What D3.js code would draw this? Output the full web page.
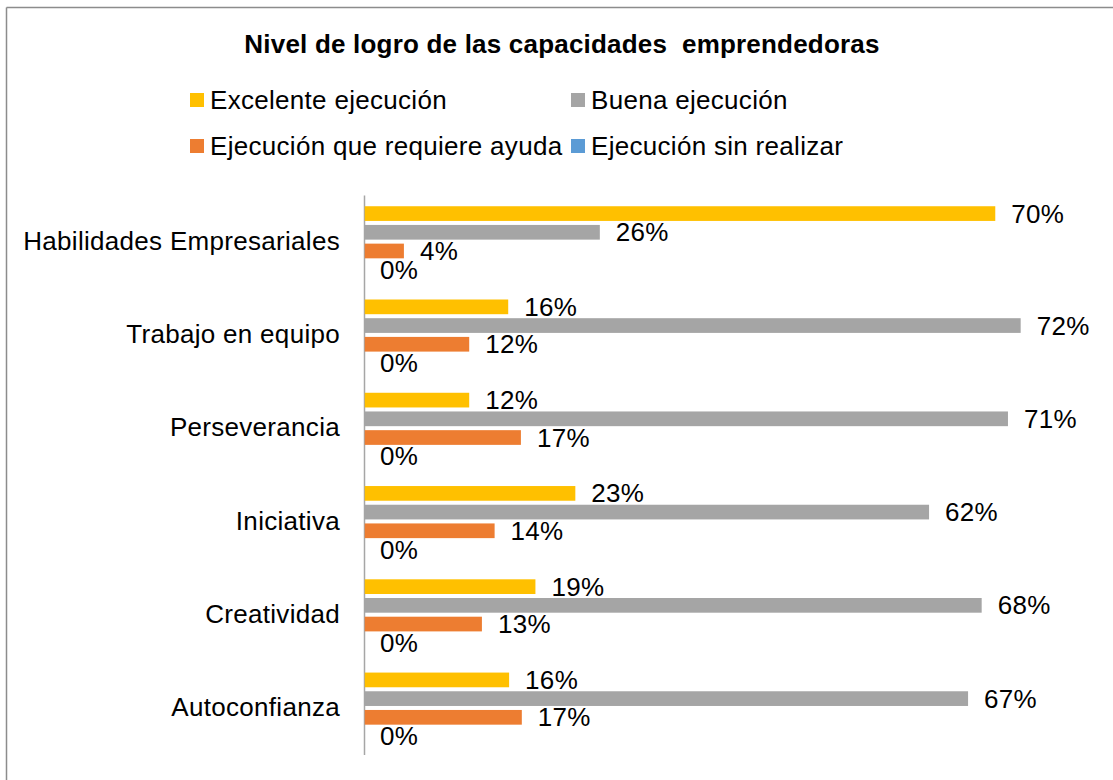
<!DOCTYPE html>
<html>
<head>
<meta charset="utf-8">
<script src="https://cdn.jsdelivr.net/npm/d3@7"></script>
<style>
  body { margin: 0; background: #fff; }
  text { font-family: "Liberation Sans", Arial, sans-serif; }
</style>
</head>
<body>
<div class="chart"></div>
<script>
// datos
var categories = ['Habilidades Empresariales', 'Trabajo en equipo', 'Perseverancia', 'Iniciativa', 'Creatividad', 'Autoconfianza'];
var seriesNames = ['Excelente ejecución', 'Buena ejecución', 'Ejecución que requiere ayuda', 'Ejecución sin realizar'];
var excelente = [0.696, 0.159, 0.116, 0.233, 0.189, 0.160];
var buena = [0.260, 0.724, 0.710, 0.623, 0.681, 0.666];
var ayuda = [0.044, 0.116, 0.173, 0.144, 0.130, 0.174];
var sinRealizar = [0, 0, 0, 0, 0, 0];
var seriesValues = [excelente, buena, ayuda, sinRealizar];
var seriesColors = ['#FFC000', '#A5A5A5', '#ED7D31', '#5B9BD5'];

var width = 1113,
  height = 780;
var fontSize = 26,
  spacing = 0.3;

var svg = d3.select('.chart').append('svg')
  .attr('width', width)
  .attr('height', height);

// borde del grafico
svg.append('line')
  .attr('x1', 6.5).attr('x2', width)
  .attr('y1', 7.5).attr('y2', 7.5)
  .attr('stroke', '#8c8c8c').attr('stroke-width', 1.5);
svg.append('line')
  .attr('x1', 6.5).attr('x2', 6.5)
  .attr('y1', 7.5).attr('y2', height)
  .attr('stroke', '#8c8c8c').attr('stroke-width', 1.5);

// titulo
svg.append('text')
  .attr('x', 562)
  .attr('y', 53)
  .attr('text-anchor', 'middle')
  .attr('font-size', 26)
  .attr('font-weight', 'bold')
  .attr('letter-spacing', 0.2)
  .style('white-space', 'pre')
  .text('Nivel de logro de las capacidades  emprendedoras');

// leyenda (2 columnas x 2 filas)
var legendX = [190, 571],
  legendY = [100, 146];
var legend = svg.append('g')
  .selectAll('g')
  .data(seriesNames)
  .enter()
  .append('g')
  .attr('transform', function (d, i) {
    return 'translate(' + legendX[i % 2] + ',' + legendY[Math.floor(i / 2)] + ')';
  });
legend.append('rect')
  .attr('x', 0)
  .attr('y', -7)
  .attr('width', 14)
  .attr('height', 14)
  .attr('fill', function (d, i) { return seriesColors[i]; });
legend.append('text')
  .attr('x', 20)
  .attr('dy', '0.35em')
  .attr('font-size', fontSize)
  .attr('letter-spacing', spacing)
  .attr('fill', '#000')
  .text(function (d) { return d; });

// escalas
var xScale = d3.scaleLinear()
  .domain([0, 0.8])
  .range([364, 1089.6]);
var y0 = d3.scaleBand()
  .domain(categories)
  .range([195, 754.6])
  .paddingInner(0.198)
  .paddingOuter(0.099);
var y1 = d3.scaleBand()
  .domain(d3.range(seriesNames.length))
  .range([0, y0.bandwidth()]);

// eje vertical
var yAxis = svg.append('g')
  .attr('transform', 'translate(' + xScale(0) + ',0)')
  .call(d3.axisLeft(y0).tickSize(0).tickPadding(24));
yAxis.select('.domain')
  .attr('stroke', '#a6a6a6')
  .attr('stroke-width', 1.5);
yAxis.selectAll('text')
  .attr('font-size', fontSize)
  .attr('letter-spacing', spacing)
  .attr('font-family', '"Liberation Sans", Arial, sans-serif')
  .attr('fill', '#000');

// barras
var rows = [];
categories.forEach(function (c, ci) {
  seriesValues.forEach(function (vals, si) {
    rows.push({ cat: c, s: si, value: vals[ci] });
  });
});

var fmt = d3.format('.0%');
var barGroup = svg.append('g');

barGroup.selectAll('rect')
  .data(rows)
  .enter()
  .append('rect')
  .attr('x', xScale(0) + 0.75)
  .attr('y', function (d) { return y0(d.cat) + y1(d.s) + 2; })
  .attr('width', function (d) { return Math.max(0, xScale(d.value) - xScale(0) - 0.75); })
  .attr('height', y1.bandwidth() - 4)
  .attr('fill', function (d) { return seriesColors[d.s]; });

barGroup.selectAll('text')
  .data(rows)
  .enter()
  .append('text')
  .attr('x', function (d) { return xScale(d.value) + 16; })
  .attr('y', function (d) { return y0(d.cat) + y1(d.s) + y1.bandwidth() / 2; })
  .attr('dy', '0.35em')
  .attr('font-size', fontSize)
  .attr('letter-spacing', spacing)
  .attr('fill', '#000')
  .text(function (d) { return fmt(d.value); });
</script>
</body>
</html>
